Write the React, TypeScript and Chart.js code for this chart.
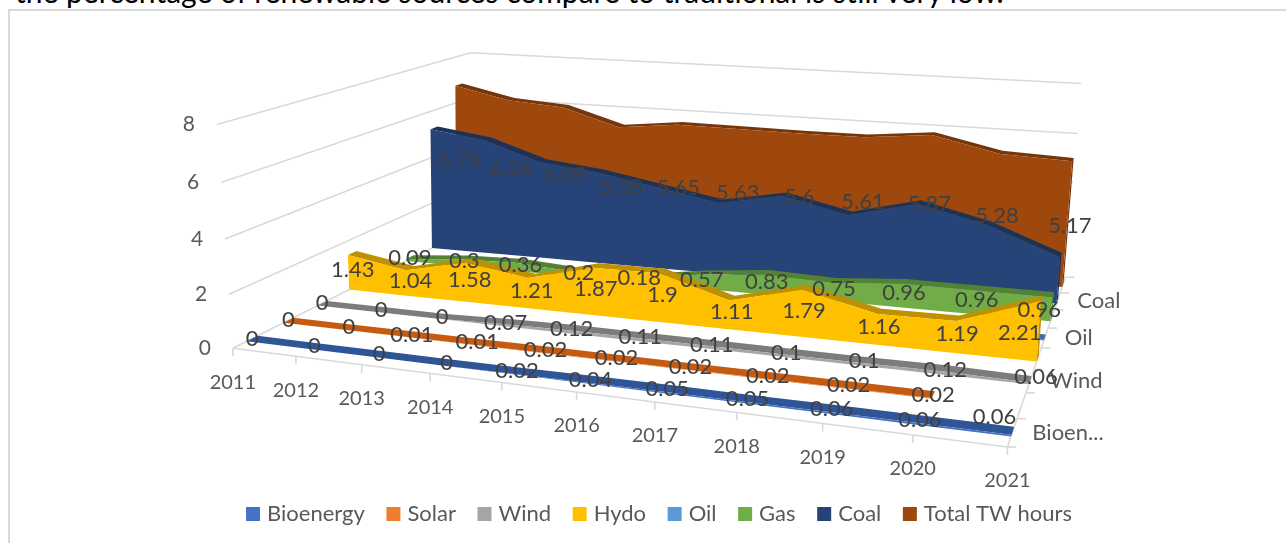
import React, { useEffect, useRef } from "react";
import { Chart, registerables } from "chart.js";

Chart.register(...registerables);

const sentence = "the percentage of renewable sources compare to traditional is still very low.";
const years = ["2011", "2012", "2013", "2014", "2015", "2016", "2017", "2018", "2019", "2020", "2021"];
const seriesNames = ["Bioenergy", "Solar", "Wind", "Hydo", "Oil", "Gas", "Coal", "Total TW hours"];
const valueTicks = [0, 2, 4, 6, 8];
const depthTicks = ["Bioen...", "Wind", "Oil", "Coal"];

const bioenergy = [0, 0, 0, 0, 0.02, 0.04, 0.05, 0.05, 0.06, 0.06, 0.06];
const solar = [0, 0, 0.01, 0.01, 0.02, 0.02, 0.02, 0.02, 0.02, 0.02, null];
const wind = [0, 0, 0, 0.07, 0.12, 0.11, 0.11, 0.1, 0.1, 0.12, 0.06];
const hydro = [1.43, 1.04, 1.58, 1.21, 1.87, 1.9, 1.11, 1.79, 1.16, 1.19, 2.21];
const oil = [0.02, 0.02, 0.02, 0.02, 0.02, 0.02, 0.02, 0.02, 0.02, 0.02, 0.02];
const gas = [0.09, 0.3, 0.36, 0.2, 0.18, 0.57, 0.83, 0.75, 0.96, 0.96, 0.96];
const coal = [5.24, 4.92, 4.15, 3.89, 3.44, 2.99, 3.48, 2.9, 3.57, 2.93, 1.88];
const total = [6.76, 6.26, 6.09, 5.38, 5.65, 5.63, 5.6, 5.61, 5.87, 5.28, 5.17];

const seriesValues = [bioenergy, solar, wind, hydro, oil, gas, coal, total];
const legendColors = ["#4472c4", "#ed7d31", "#a5a5a5", "#ffc000", "#5b9bd5", "#70ad47", "#264478", "#9e480e"];
const topColors = ["#2f5597", "#c55a11", "#7c7c7c", "#bf9000", "#41719c", "#548235", "#1c3358", "#76360a"];
const labelled = [true, true, true, true, false, true, false, true];
// Excel pulls the last label of a series inwards
const lastLabelNudge = [[-18, -15], [0, 0], [6, -3], [-20, 5], [0, 0], [-13, 3], [0, 0], [2, 4]];

const GRID = "#d9d9d9";
const LABEL = "#404040";
const AXIS = "#595959";
const FONT = "Lato";
const YEAR_SIZE = 20;
const AXIS_SIZE = 21;
const LABEL_SIZE = 22;
const LEGEND_SIZE = 22;
const SLOTS = 8;
const THICK = 0.28;
const YMAX = 8;

// Perspective view of the plot box: u = years, v = depth, w = value axis (all 0..1)
function project(u: number, v: number, w: number) {
  const den = 1 - 0.202 * u + 0.322 * v - 0.045 * w;
  return {
    x: (233 + 571.4 * u + 389.7 * v - (25.8 - 4.6 * v + 9.7 * u) * w) / den,
    y: (348 + 8.7 * u - 46.6 * v - (229.6 + 5.4 * v - 14 * u) * w) / den,
  };
}
const uOf = (i: number) => i / (years.length - 1);
const P = (i: number, depth: number, value: number) => project(uOf(i), depth / SLOTS, value / YMAX);

function facePoints(values: (number | null)[], slot: number) {
  const idx = values.map((v, i) => (v === null ? -1 : i)).filter((i) => i >= 0);
  const front = slot + 0.5 - THICK / 2;
  const back = slot + 0.5 + THICK / 2;
  const last = idx[idx.length - 1];
  const tops = idx.map((i) => P(i, front, values[i] as number));
  const floors = idx.map((i) => P(i, front, 0));
  const face = [...tops, ...floors.slice().reverse()];
  const shell = [
    ...tops,
    P(last, front, 0),
    P(last, back, 0),
    ...idx.slice().reverse().map((i) => P(i, back, values[i] as number)),
  ];
  return { face, shell };
}

const poly = (data: any[], color: string) => ({
  data,
  showLine: true,
  fill: "shape",
  backgroundColor: color,
  borderColor: color,
  borderWidth: 0,
  pointRadius: 0,
  clip: false,
});
const rule = (a: any, b: any) => ({
  data: [a, b],
  showLine: true,
  fill: false,
  borderColor: GRID,
  borderWidth: 1.6,
  pointRadius: 0,
  clip: false,
});

function buildDatasets() {
  const sets: any[] = [];
  seriesValues.forEach((values, s) => {
    const { face, shell } = facePoints(values, s);
    sets.push(poly(face, legendColors[s]));
    sets.push(poly(shell, topColors[s]));
  });
  valueTicks.forEach((t) => {
    sets.push(rule(P(0, 0, t), P(0, SLOTS, t)));
    sets.push(rule(P(0, SLOTS, t), P(years.length - 1, SLOTS, t)));
  });
  sets.push(rule(P(0, 0, 0), P(years.length - 1, 0, 0)));
  sets.push(rule(P(years.length - 1, 0, 0), P(years.length - 1, SLOTS, 0)));
  years.forEach((_, i) => {
    const p = P(i, 0, 0);
    sets.push(rule(p, { x: p.x, y: p.y + 8 }));
  });
  for (let d = 0; d <= SLOTS; d++) {
    const p = P(years.length - 1, d, 0);
    sets.push(rule(p, { x: p.x + 9, y: p.y }));
  }
  return sets;
}

const textPlugin = {
  id: "textPlugin",
  afterDatasetsDraw(chart: any) {
    const { ctx, scales } = chart;
    const X = (v: number) => scales.x.getPixelForValue(v);
    const Y = (v: number) => scales.y.getPixelForValue(v);
    ctx.save();
    ctx.textBaseline = "middle";
    ctx.textAlign = "center";
    ctx.fillStyle = AXIS;
    ctx.font = `${AXIS_SIZE}px ${FONT}`;
    valueTicks.forEach((t) => {
      const p = P(0, 0, t);
      ctx.fillText(String(t), X(p.x - 28), Y(p.y));
    });
    ctx.font = `${YEAR_SIZE}px ${FONT}`;
    years.forEach((y, i) => {
      const p = P(i, 0, 0);
      ctx.fillText(y, X(p.x), Y(p.y + 34));
    });
    ctx.font = `${LABEL_SIZE}px ${FONT}`;
    ctx.textAlign = "left";
    depthTicks.forEach((name, k) => {
      const p = P(years.length - 1, k * 2 + 0.5, 0);
      ctx.fillText(name, X(p.x + 20), Y(p.y));
    });
    ctx.textAlign = "center";
    ctx.fillStyle = LABEL;
    seriesValues.forEach((values, s) => {
      if (!labelled[s]) return;
      values.forEach((v, i) => {
        if (v === null) return;
        const top = P(i, s + 0.5, v);
        const floor = P(i, s + 0.5, 0);
        const isLast = i === years.length - 1;
        const dx = isLast ? lastLabelNudge[s][0] : 0;
        const dy = isLast ? lastLabelNudge[s][1] : 0;
        ctx.fillText(String(v), X((top.x + floor.x) / 2 + dx), Y((top.y + floor.y) / 2 + dy));
      });
    });
    ctx.restore();
  },
};

export default function App() {
  const ref = useRef<HTMLCanvasElement>(null);
  useEffect(() => {
    const chart = new Chart(ref.current as HTMLCanvasElement, {
      type: "scatter",
      data: { datasets: buildDatasets() },
      plugins: [textPlugin],
      options: {
        animation: false,
        responsive: false,
        events: [],
        layout: { padding: { left: 36, bottom: 8 } },
        scales: {
          x: { type: "linear", display: false, min: 36, max: 1286 },
          y: { type: "linear", display: false, reverse: true, min: 0, max: 479 },
        },
        plugins: {
          filler: { drawTime: "beforeDatasetDraw" },
          tooltip: { enabled: false },
          title: { display: false },
          legend: {
            display: true,
            position: "bottom",
            labels: {
              font: { family: FONT, size: LEGEND_SIZE },
              color: AXIS,
              usePointStyle: true,
              pointStyle: "rect",
              boxWidth: 6,
              boxHeight: 14,
              padding: 25.6,
              generateLabels: () =>
                seriesNames.map((text, i) => ({
                  text,
                  fillStyle: legendColors[i],
                  strokeStyle: legendColors[i],
                  fontColor: AXIS,
                  lineWidth: 0,
                  hidden: false,
                  pointStyle: "rect",
                  datasetIndex: i * 2,
                })),
            },
          },
        },
      } as any,
    });
    const area = chart.chartArea;
    (chart.options as any).scales.x.min = area.left;
    (chart.options as any).scales.x.max = area.right;
    (chart.options as any).scales.y.min = area.top;
    (chart.options as any).scales.y.max = area.bottom;
    chart.update();
    return () => chart.destroy();
  }, []);

  return (
    <div style={{ position: "fixed", left: 0, top: 0, width: 1286, height: 543, overflow: "hidden", background: "#fff" }}>
      <div
        style={{
          position: "absolute",
          left: 15,
          top: -25,
          fontFamily: FONT,
          fontSize: 30,
          lineHeight: "32px",
          color: "#000",
          whiteSpace: "nowrap",
        }}
      >
        {sentence}
      </div>
      <div
        style={{
          position: "absolute",
          left: 8,
          top: 9,
          width: 1300,
          height: 560,
          borderLeft: "2px solid #d9d9d9",
          borderTop: "2px solid #d9d9d9",
        }}
      />
      <canvas ref={ref} width={1286} height={543} style={{ position: "absolute", left: 0, top: 0, display: "block" }} />
    </div>
  );
}
